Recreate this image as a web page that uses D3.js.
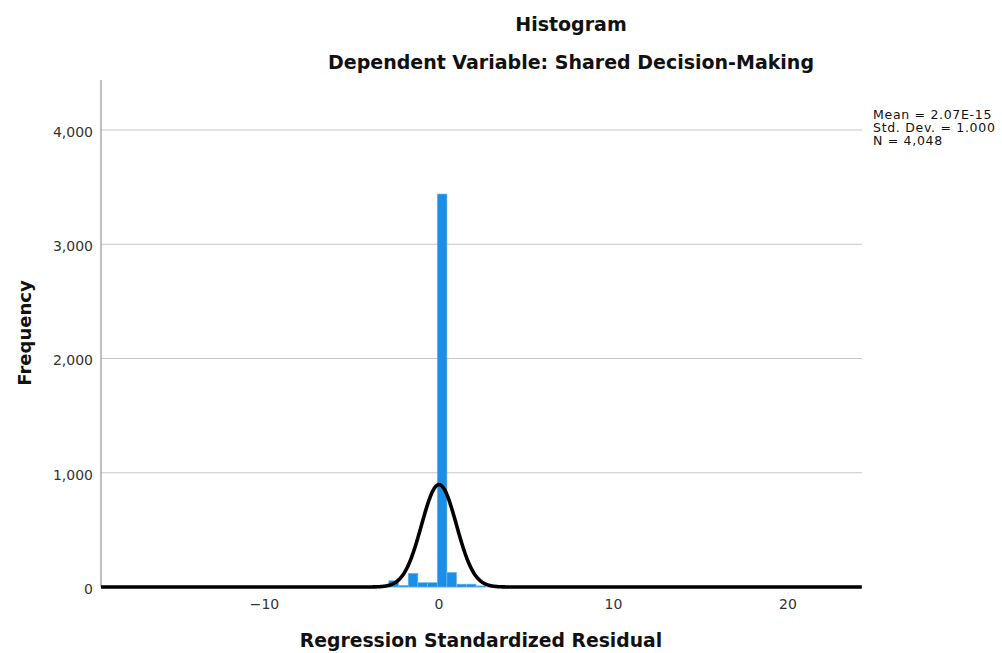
<!DOCTYPE html>
<html><head><meta charset="utf-8">
<script src="https://cdn.jsdelivr.net/npm/d3@7/dist/d3.min.js"></script>
<style>body{margin:0;background:#fff}svg{display:block}</style>
</head><body>
<svg id="c" width="1002" height="653"></svg>
<script>
// ---- data ----
const binStarts = [-2.875, -2.32, -1.765, -1.21, -0.655, -0.1, 0.455, 1.01, 1.565, 2.12];
const binCounts = [55, 15, 120, 38, 38, 3440, 128, 25, 25, 10];
const binWidth = 0.555;
const xTicks = [-10, 0, 10, 20];
const yTicks = [0, 1000, 2000, 3000, 4000];
const statLines = ["Mean = 2.07E-15", "Std. Dev. = 1.000", "N = 4,048"];
const curveMean = 0, curveSD = 1, curveN = 4048;
const titleText = "Histogram";
const subtitleText = "Dependent Variable: Shared Decision-Making";
const xTitle = "Regression Standardized Residual";
const yTitle = "Frequency";

const svg = d3.select("#c");
svg.append("rect").attr("width",1002).attr("height",653).attr("fill","#fff");
const FONT = "DejaVu Sans, Liberation Sans, sans-serif";

const x = d3.scaleLinear().domain([-19.37, 24.24]).range([101, 862]);
const y = d3.scaleLinear().domain([0, 4438]).range([587, 80]);

// gridlines
svg.append("g").selectAll("line").data(yTicks).join("line")
  .attr("x1", x.range()[0]).attr("x2", x.range()[1])
  .attr("y1", d => y(d)).attr("y2", d => y(d))
  .attr("stroke", "#c8c8c8").attr("stroke-width", 1);

// bars
svg.append("g").selectAll("rect").data(binStarts.map((s,i)=>({s, c:binCounts[i]}))).join("rect")
  .attr("x", d => x(d.s)).attr("width", d => x(d.s + binWidth) - x(d.s))
  .attr("y", d => y(d.c)).attr("height", d => y(0) - y(d.c))
  .attr("fill", "#1b8fe6").attr("stroke", "#74b9ef").attr("stroke-width", 0.6);

// y axis line
svg.append("line").attr("x1", 101).attr("x2", 101).attr("y1", y.range()[1]).attr("y2", y(0))
  .attr("stroke", "#808080").attr("stroke-width", 1);

// normal curve from legend parameters
const pts = d3.range(x.domain()[0], x.domain()[1] + 0.001, 0.02).map(v => {
  const z = (v - curveMean) / curveSD;
  return [v, curveN * binWidth * Math.exp(-0.5 * z * z) / (curveSD * Math.sqrt(2 * Math.PI))];
});
svg.append("path").datum(pts)
  .attr("d", d3.line().x(d => x(d[0])).y(d => y(d[1])))
  .attr("fill", "none").attr("stroke", "#000").attr("stroke-width", 3.6);

// tick labels
const fmt = d3.format(",");
svg.append("g").selectAll("text").data(yTicks).join("text")
  .attr("x", 93).attr("y", d => y(d) + 2).attr("dy", "0.35em")
  .attr("text-anchor", "end").attr("font-family", FONT).attr("font-size", 14).attr("fill", "#333")
  .text(d => fmt(d));
svg.append("g").selectAll("text").data(xTicks).join("text")
  .attr("x", d => x(d)).attr("y", 609)
  .attr("text-anchor", "middle").attr("font-family", FONT).attr("font-size", 14).attr("fill", "#333")
  .text(d => d3.format("")(d));

// titles
svg.append("text").attr("x", 571).attr("y", 31).attr("text-anchor", "middle")
  .attr("font-family", FONT).attr("font-weight", "bold").attr("font-size", 19).attr("fill", "#111").text(titleText);
svg.append("text").attr("x", 571).attr("y", 69).attr("text-anchor", "middle")
  .attr("font-family", FONT).attr("font-weight", "bold").attr("font-size", 19).attr("fill", "#111").text(subtitleText);
svg.append("text").attr("x", 481).attr("y", 647).attr("text-anchor", "middle")
  .attr("font-family", FONT).attr("font-weight", "bold").attr("font-size", 18.8).attr("fill", "#111").text(xTitle);
svg.append("text").attr("transform", "translate(31,333) rotate(-90)").attr("text-anchor", "middle")
  .attr("font-family", FONT).attr("font-weight", "bold").attr("font-size", 18).attr("fill", "#111").text(yTitle);

// stats
svg.append("g").selectAll("text").data(statLines).join("text")
  .attr("x", 873).attr("y", (d,i) => 119 + i * 13)
  .attr("font-family", FONT).attr("font-size", 12.5).attr("letter-spacing", 0.7).attr("fill", "#111")
  .text(d => d);
</script>
</body></html>
